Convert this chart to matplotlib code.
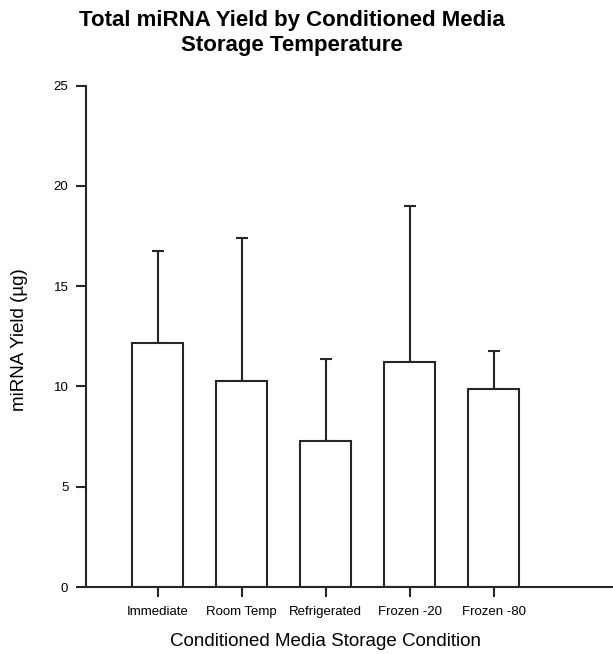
import numpy as np
import matplotlib
matplotlib.use("Agg")
import matplotlib.pyplot as plt

plt.rcParams["font.family"] = ["Liberation Sans", "DejaVu Sans"]

conditions = ["Immediate", "Room Temp", "Refrigerated", "Frozen -20", "Frozen -80"]
yield_mean = [12.15, 10.25, 7.30, 11.24, 9.86]
yield_err = [4.62, 7.14, 4.06, 7.78, 1.91]
yticks = [0, 5, 10, 15, 20, 25]

INK = "#262626"
LW = 1.5

fig = plt.figure(figsize=(6.13, 6.54), dpi=100, facecolor="white")
ax = fig.add_axes([0.1398, 0.1024, 1 - 0.1398, 0.7666])

x = np.arange(len(conditions))
ax.bar(x, yield_mean, width=0.607, color="white", edgecolor=INK, linewidth=LW,
       zorder=2)
ax.errorbar(x, yield_mean, yerr=[np.zeros(len(x)), yield_err], fmt="none",
            ecolor=INK, elinewidth=LW, capsize=4.4, capthick=LW, zorder=1)

ax.set_xlim(-0.857, 5.42)
ax.set_ylim(0, 25)
ax.set_yticks(yticks)
ax.set_xticks(x)
ax.set_xticklabels(conditions, fontsize=9.5)
ax.tick_params(axis="y", labelsize=9.5, length=7.5, width=LW, color=INK, pad=5)
ax.tick_params(axis="x", length=7.5, width=LW, color=INK, pad=6)
for s in ("top", "right"):
    ax.spines[s].set_visible(False)
for s in ("left", "bottom"):
    ax.spines[s].set_linewidth(LW)
    ax.spines[s].set_color(INK)

# axis titles placed in figure coordinates
fig.text(20 / 613, 1 - 340 / 654, "miRNA Yield (µg)", fontsize=13.5,
         rotation=90, ha="center", va="center")
fig.text(325 / 613, 1 - 641.7 / 654, "Conditioned Media Storage Condition",
         fontsize=13.5, ha="center", va="center")
fig.text(291.5 / 613, 1 - 33 / 654,
         "Total miRNA Yield by Conditioned Media\nStorage Temperature",
         fontsize=16, fontweight="bold", ha="center", va="center",
         linespacing=1.2)

fig.savefig("out.png", dpi=100, facecolor="white")
